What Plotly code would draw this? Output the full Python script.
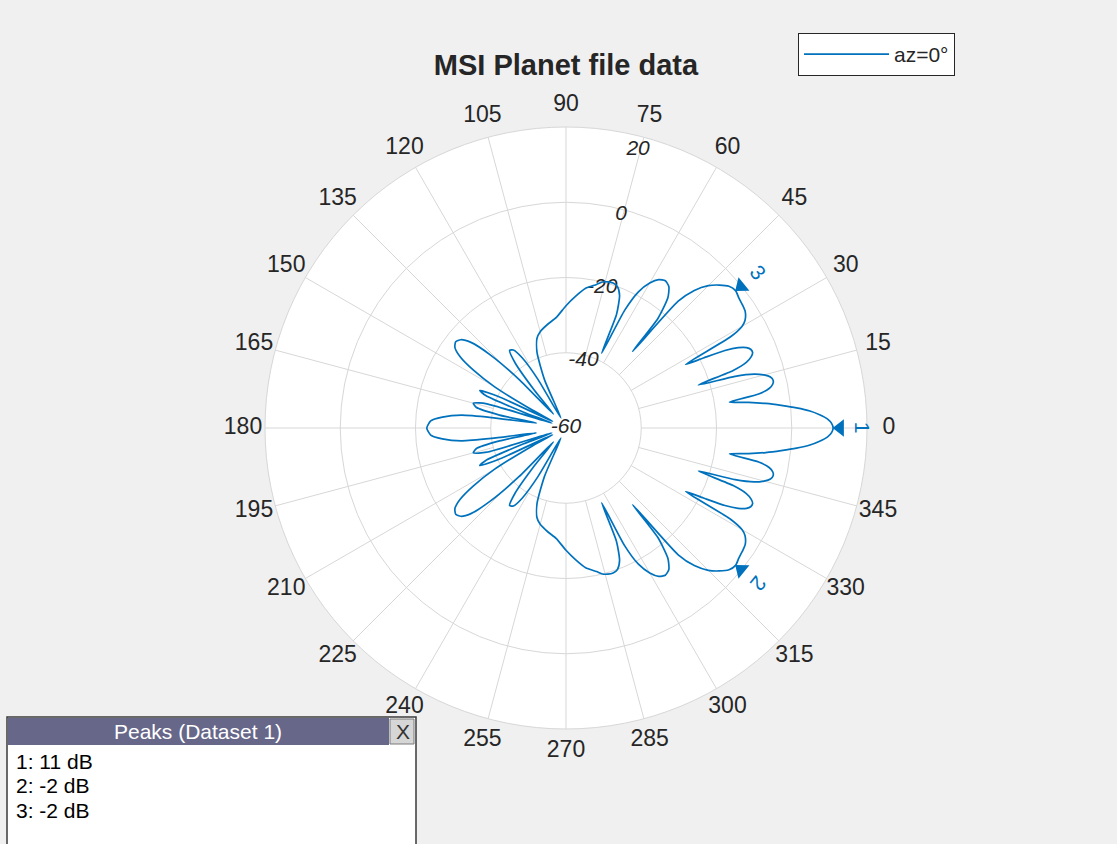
import math
import plotly.graph_objects as go

W, H = 1117, 844
CX, CY, R = 566, 428, 301  # polar centre / radius in px

# ---------------- data ----------------
theta_upper = [0, 1, 2, 3, 4, 5, 6, 7, 8, 9, 10, 11, 12, 13, 14, 15, 16, 17, 18,
               19, 20, 21, 22, 23, 24, 25, 26, 27, 28, 29, 30, 31, 33, 35, 37, 39,
               41, 43, 45, 47, 48.5, 49, 50, 52, 54, 56, 58, 60, 62, 63.5, 64.5,
               66, 68, 70, 72, 74, 76, 78, 82, 86, 90, 95, 100, 105, 108, 111,
               114, 117, 120, 122, 124, 126, 128, 130, 132, 134, 136, 138, 140,
               142, 144, 146, 148, 150, 152, 153.5, 155, 156.5, 158, 159.5, 161,
               163, 165, 167, 169, 170.5, 172, 173, 175, 177, 180]
db_upper = [11, 10.6, 9.5, 7.5, 5, 1.5, -2.5, -6.5, -11, -16, -8, -5, -3.8, -3.5,
            -4, -5.5, -8, -13, -23, -13, -9, -7.3, -6.5, -6.6, -7.5, -9.5, -13,
            -19, -24, -10, -6, -4.5, -3.2, -2.8, -2.5, -2, -2.6, -4.3, -6.5, -10,
            -15, -33, -22, -16, -13.5, -12.8, -13.5, -15.5, -19, -25, -38, -27,
            -22, -20, -19.5, -19.6, -20, -21, -22.5, -25, -27.5, -30.5, -32,
            -33.5, -35, -38.5, -46, -57, -45, -38, -35, -34.5, -38, -47, -55, -42,
            -32, -26, -23.5, -22.8, -23.5, -26, -31, -38, -50, -56, -40, -35, -37,
            -48, -56, -38, -34.5, -35.5, -42, -52, -40, -32, -27, -24, -23]
theta_lower = [-180, -177, -175, -173, -172, -170.5, -169, -167, -165, -163, -161,
               -159.5, -158, -156.5, -155, -153.5, -152, -150, -148, -146, -144,
               -142, -140, -138, -136, -134, -132, -130, -128, -126, -124, -122,
               -120, -117, -114, -111, -108, -105, -100, -95, -90, -86, -82, -78,
               -76, -74, -72, -70, -68, -66, -64.5, -63.5, -62, -60, -58, -56, -54,
               -52, -50, -49, -48.5, -47, -45, -43, -41, -39, -37, -35, -33, -31,
               -30, -29, -28, -27, -26, -25, -24, -23, -22, -21, -20, -19, -18, -17,
               -16, -15, -14, -13, -12, -11, -10, -9, -8, -7, -6, -5, -4, -3, -2,
               -1, 0]
db_lower = [-23, -24, -27, -32, -40, -52, -42, -35.5, -34.5, -38, -56, -48, -37,
            -35, -40, -56, -50, -38, -31, -26, -23.5, -22.8, -23.5, -26, -32, -42,
            -55, -47, -38, -34.5, -35, -38, -45, -57, -46, -38.5, -35, -33.5, -32,
            -30.5, -27.5, -25, -22.5, -21, -20, -19.6, -19.5, -20, -22, -27, -38,
            -25, -19, -15.5, -13.5, -12.8, -13.5, -16, -22, -33, -15, -10, -6.5,
            -4.3, -2.6, -2, -2.5, -2.8, -3.2, -4.5, -6, -10, -24, -19, -13, -9.5,
            -7.5, -6.6, -6.5, -7.3, -9, -13, -23, -13, -8, -5.5, -4, -3.5, -3.8,
            -5, -8, -16, -11, -6.5, -2.5, 1.5, 5, 7.5, 9.5, 10.6, 11]

peak_ids = ["1", "2", "3"]
peak_theta = [0, -39, 39]
peak_db = [11, -2, -2]

r_min, r_max = -60, 20
radial_ticks = [-60, -40, -20, 0, 20]
angle_ticks = list(range(0, 360, 15))
spoke_inner = -40

series_name = "az=0°"
title_text = "MSI Planet file data"
peaks_title = "Peaks (Dataset 1)"

# ---------------- helpers ----------------
def px(x):
    return x / W

def py(y):
    return 1 - y / H

BLUE = "#0072BD"
GRID = "#d7d7d7"
TXT = "#262626"
FONT = "Liberation Sans, Arial, sans-serif"

span = r_max - r_min
unit_px = R / span          # pixels per dB on the radial scale
dom_x = [px(CX - R), px(CX + R)]
dom_y = [py(CY + R), py(CY - R)]
# cartesian overlay covers a wider square with the same px-per-unit scale
ext = 100
ext_px = ext * unit_px
cdom_x = [px(CX - ext_px), px(CX + ext_px)]
cdom_y = [py(CY + ext_px), py(CY - ext_px)]

theta = theta_lower + theta_upper[1:]
db = db_lower + db_upper[1:]

fig = go.Figure()

# angular spokes (from -40 ring outward, like the reference)
sp_r, sp_t = [], []
for a in angle_ticks:
    sp_r += [spoke_inner, r_max, None]
    sp_t += [a, a, None]
fig.add_trace(go.Scatterpolar(r=sp_r, theta=sp_t, mode="lines",
                              line=dict(color=GRID, width=1),
                              hoverinfo="skip", showlegend=False))

# radial tick labels (italic), placed along the 75.5 deg direction
fig.add_trace(go.Scatterpolar(
    r=[v - (3.5 if v == r_max else 1.5 if v > r_min else 0) for v in radial_ticks],
    theta=[75.5] * len(radial_ticks),
    text=[str(v) for v in radial_ticks], mode="text", cliponaxis=False,
    textposition="middle center",
    textfont=dict(family=FONT, size=21, color=TXT, style="italic"),
    hoverinfo="skip", showlegend=False))

fig.add_trace(go.Scatterpolar(r=db, theta=theta, mode="lines", name=series_name,
                              line=dict(color=BLUE, width=1.7, shape="spline",
                                        smoothing=0.6)))

fig.add_trace(go.Scatterpolar(
    r=peak_db, theta=peak_theta, mode="markers", showlegend=False,
    marker=dict(symbol="triangle-up", size=15, color=BLUE,
                angle=[-(t + 90) for t in peak_theta], standoff=7),
    hoverinfo="skip"))

# cartesian overlay sharing the polar scale (units = dB above r_min):
# angular tick labels centred 22 px outside the outer ring
lab_r = span + 22 / unit_px
fig.add_trace(go.Scatter(
    x=[lab_r * math.cos(math.radians(a)) for a in angle_ticks],
    y=[lab_r * math.sin(math.radians(a)) for a in angle_ticks],
    text=[str(a) for a in angle_ticks], mode="text", cliponaxis=False,
    textposition="middle center", textfont=dict(family=FONT, size=23, color=TXT),
    showlegend=False, hoverinfo="skip", xaxis="x", yaxis="y"))

annotations = []
for pid, t, v in zip(peak_ids, peak_theta, peak_db):
    rr = v - r_min
    c, s = math.cos(math.radians(t)), math.sin(math.radians(t))
    annotations.append(dict(
        x=rr * c, y=rr * s, xref="x", yref="y", text=pid, showarrow=False,
        xshift=29 * c, yshift=29 * s, textangle=90 - t,
        xanchor="center", yanchor="middle",
        font=dict(family=FONT, size=21, color=BLUE)))

# peaks panel
box_l, box_r, box_t = 7, 416, 717
head_b = 745
btn_l = 389
shapes = [
    dict(type="rect", xref="paper", yref="paper", x0=px(box_l), x1=px(box_r),
         y0=py(H + 5), y1=py(box_t), fillcolor="white",
         line=dict(color="#3a3a3a", width=1.5), layer="above"),
    dict(type="rect", xref="paper", yref="paper", x0=px(box_l + 1), x1=px(btn_l),
         y0=py(head_b), y1=py(box_t + 1), fillcolor="#67678a",
         line=dict(width=0), layer="above"),
    dict(type="rect", xref="paper", yref="paper", x0=px(btn_l + 1), x1=px(box_r - 2),
         y0=py(head_b - 1), y1=py(box_t + 2), fillcolor="#d6d6d6",
         line=dict(color="#7a7a7a", width=1), layer="above"),
]
annotations.append(dict(x=px((box_l + btn_l) / 2), y=py((box_t + head_b) / 2),
                        xref="paper", yref="paper", text=peaks_title, showarrow=False,
                        xanchor="center", yanchor="middle",
                        font=dict(family=FONT, size=21, color="white")))
annotations.append(dict(x=px((btn_l + box_r) / 2), y=py((box_t + head_b) / 2),
                        xref="paper", yref="paper", text="X", showarrow=False,
                        xanchor="center", yanchor="middle",
                        font=dict(family=FONT, size=21, color="#333333")))
for i, (pid, v) in enumerate(zip(peak_ids, peak_db)):
    annotations.append(dict(x=px(14), y=py(761 + 24.5 * i), xref="paper", yref="paper",
                            xanchor="left", yanchor="middle",
                            text=f"{pid}: {v:g} dB", showarrow=False,
                            font=dict(family=FONT, size=21, color="black")))

fig.update_layout(
    width=W, height=H,
    margin=dict(l=0, r=0, t=0, b=0),
    paper_bgcolor="#f0f0f0",
    plot_bgcolor="rgba(0,0,0,0)",
    title=dict(text=f"<b>{title_text}</b>", x=px(CX), y=py(65), xanchor="center",
               yanchor="middle", font=dict(family=FONT, size=29, color=TXT)),
    polar=dict(
        domain=dict(x=dom_x, y=dom_y),
        bgcolor="white",
        radialaxis=dict(range=[r_min, r_max], tickvals=radial_ticks,
                        showticklabels=False, showline=False, ticks="",
                        gridcolor=GRID, gridwidth=1, layer="below traces"),
        angularaxis=dict(direction="counterclockwise", rotation=0,
                         tickvals=angle_ticks, showticklabels=False,
                         showgrid=False, showline=True, linecolor=GRID, linewidth=1,
                         ticks="", layer="below traces"),
    ),
    xaxis=dict(domain=cdom_x, range=[-ext, ext], visible=False, fixedrange=True),
    yaxis=dict(domain=cdom_y, range=[-ext, ext], visible=False, fixedrange=True),
    showlegend=True,
    legend=dict(x=px(798), y=py(33), xanchor="left", yanchor="top",
                bgcolor="white", bordercolor="#262626", borderwidth=1,
                itemwidth=85, font=dict(family=FONT, size=21, color=TXT)),
    shapes=shapes,
    annotations=annotations,
)

fig.write_html("out.html", config={"displayModeBar": False},
               post_script="document.body.style.margin='0px';")
